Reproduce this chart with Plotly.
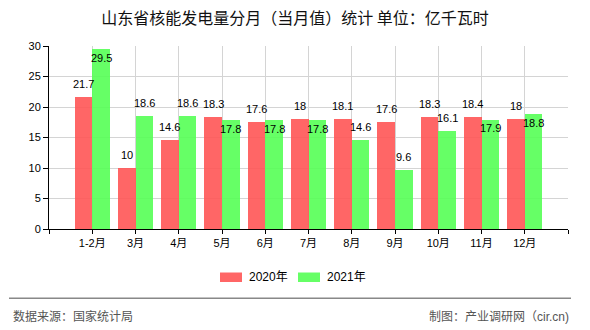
import plotly.graph_objects as go

# ---- data ----
categories = ["1-2月", "3月", "4月", "5月", "6月", "7月", "8月", "9月", "10月", "11月", "12月"]
values_2020 = [21.7, 10, 14.6, 18.3, 17.6, 18, 18.1, 17.6, 18.3, 18.4, 18]
values_2021 = [29.5, 18.6, 18.6, 17.8, 17.8, 17.8, 14.6, 9.6, 16.1, 17.9, 18.8]
series_names = ["2020年", "2021年"]
y_ticks = [0, 5, 10, 15, 20, 25, 30]

# label placement style for the 2021 labels (inside = drawn just under the bar top)
label_place_2021 = ["in", "out", "out", "in", "in", "in", "out", "out", "out", "in", "in"]

RED = "#ff6666"
GREEN = "#66ff66"
RED_BASE = "rgb(255,85,85)"     # drawn at 0.9 opacity -> appears ~#ff6666, grid shows through
GREEN_BASE = "rgb(85,255,85)"
FONT = "Liberation Sans, Noto Sans CJK SC, sans-serif"

# plot-area geometry (pixels) in the 590x330 canvas
W, H = 590, 330
ML, MR, MT, MB = 49, 22, 46, 101
PW, PH = W - ML - MR, H - MT - MB


def px(x):
    return (x - ML) / PW


def py(y):
    return (H - MB - y) / PH


xpos = list(range(1, len(categories) + 1))
bw = 0.405

fig = go.Figure()
fig.add_trace(go.Bar(x=xpos, y=values_2020, name=series_names[0], width=bw, offset=-bw,
                     marker=dict(color=RED_BASE, opacity=0.9, line=dict(width=0)),
                     showlegend=False))
fig.add_trace(go.Bar(x=xpos, y=values_2021, name=series_names[1], width=bw, offset=0,
                     marker=dict(color=GREEN_BASE, opacity=0.9, line=dict(width=0)),
                     showlegend=False))

annotations = []
for xi, v in zip(xpos, values_2020):
    annotations.append(dict(x=xi - bw / 2, y=v, xref="x", yref="y", text=f"{v:g}",
                            showarrow=False, yanchor="middle", yshift=13,
                            font=dict(family=FONT, size=11, color="#000")))
for xi, v, pl in zip(xpos, values_2021, label_place_2021):
    annotations.append(dict(x=xi + bw / 2, y=v, xref="x", yref="y", text=f"{v:g}",
                            showarrow=False, yanchor="middle",
                            yshift=13 if pl == "out" else -8.5,
                            font=dict(family=FONT, size=11, color="#000")))

# manual legend
shapes = []
legend_items = [(220, 242, 247, RED, series_names[0]), (298, 320, 325, GREEN, series_names[1])]
for x0, x1, tx, col, name in legend_items:
    shapes.append(dict(type="rect", xref="paper", yref="paper",
                       x0=px(x0), x1=px(x1), y0=py(282), y1=py(272.5),
                       fillcolor=col, line=dict(width=0)))
    annotations.append(dict(x=px(tx), y=py(277.3), xref="paper", yref="paper", text=name,
                            showarrow=False, xanchor="left", yanchor="middle",
                            font=dict(family=FONT, size=12, color="#000")))

# footer separator and texts
shapes.append(dict(type="line", xref="paper", yref="paper",
                   x0=px(9), x1=px(571), y0=py(298.3), y1=py(298.3),
                   line=dict(color="#888888", width=1.5)))
annotations.append(dict(x=px(11), y=py(316.7), xref="paper", yref="paper",
                        text="数据来源：国家统计局", showarrow=False,
                        xanchor="left", yanchor="middle",
                        font=dict(family=FONT, size=12, color="#555555")))
annotations.append(dict(x=px(571), y=py(316.7), xref="paper", yref="paper",
                        text="制图：产业调研网（cir.cn)", showarrow=False,
                        xanchor="right", yanchor="middle",
                        font=dict(family=FONT, size=12, color="#555555")))

fig.update_layout(
    width=W, height=H,
    margin=dict(l=ML, r=MR, t=MT, b=MB, pad=0),
    paper_bgcolor="white", plot_bgcolor="white",
    title=dict(text="山东省核能发电量分月（当月值）统计 单位：亿千瓦时",
               x=0.5, xref="container", y=1 - 18 / H, yref="container",
               xanchor="center", yanchor="middle",
               font=dict(family="Noto Sans CJK SC, sans-serif", size=16, color="#111")),
    barmode="overlay",
    bargap=0,
    showlegend=False,
    annotations=annotations,
    shapes=shapes,
    font=dict(family=FONT, size=11, color="#000"),
)

fig.update_xaxes(
    range=[0, len(categories) + 1],
    tickmode="array",
    tickvals=list(range(0, len(categories) + 2)),
    ticktext=[""] + categories + [""],
    showgrid=True, gridcolor="#d4d4d4", gridwidth=1,
    showline=True, linecolor="#000", linewidth=1,
    ticks="outside", ticklen=4, tickcolor="#000",
    tickfont=dict(family=FONT, size=11, color="#000"),
    zeroline=False, fixedrange=True,
)
fig.update_yaxes(
    range=[0, 30],
    tickmode="array", tickvals=y_ticks,
    showgrid=True, gridcolor="#d4d4d4", gridwidth=1,
    showline=True, linecolor="#000", linewidth=1,
    ticks="outside", ticklen=5, tickcolor="#000",
    tickfont=dict(family=FONT, size=11, color="#000"),
    zeroline=False, fixedrange=True,
)

fig.write_html("out.html", config={"displayModeBar": False})
